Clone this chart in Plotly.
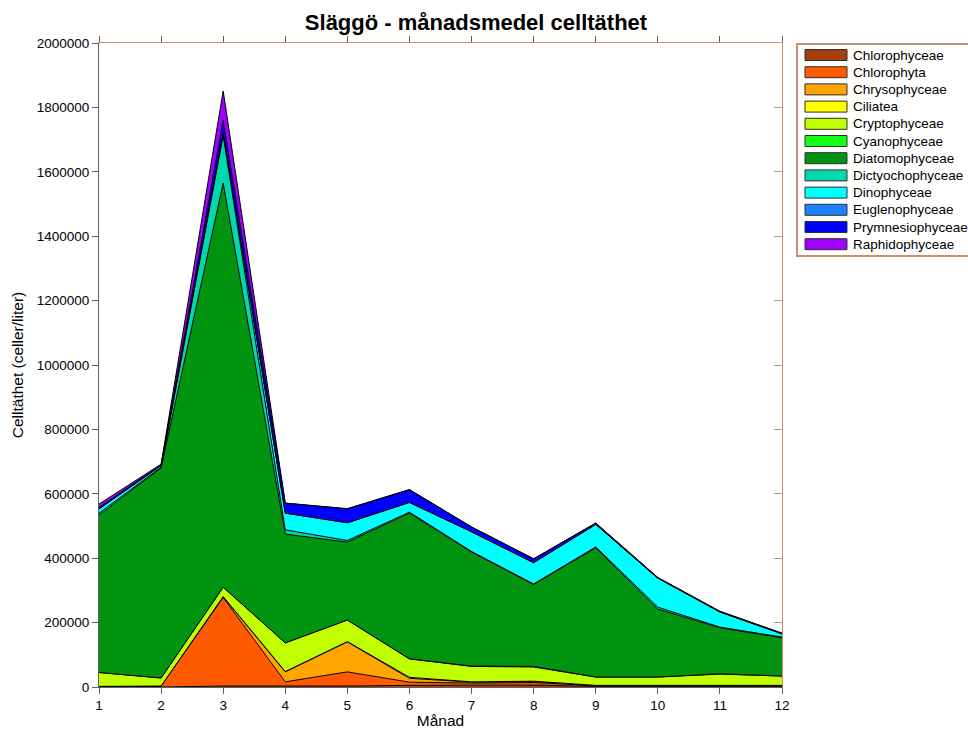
import plotly.graph_objects as go

months = [1, 2, 3, 4, 5, 6, 7, 8, 9, 10, 11, 12]

chlorophyceae    = [0, 0, 3000, 2000, 3000, 5000, 6000, 6000, 2000, 2000, 3000, 2000]
chlorophyta      = [2000, 3000, 275000, 14000, 44000, 10000, 6000, 8000, 2000, 2000, 2000, 2000]
chrysophyceae    = [0, 0, 2000, 31000, 93000, 12000, 3000, 3000, 1000, 1000, 1000, 1000]
ciliatea         = [0, 0, 1000, 1000, 1000, 3000, 1000, 1000, 0, 0, 0, 0]
cryptophyceae    = [43000, 25000, 29000, 89000, 67000, 57000, 48000, 44000, 26000, 26000, 34000, 29000]
cyanophyceae     = [0, 0, 0, 0, 0, 1000, 1000, 2000, 0, 0, 1000, 0]
diatomophyceae   = [489000, 652000, 1255000, 338000, 242000, 452000, 354000, 254000, 401000, 211000, 143000, 119000]
dictyochophyceae = [6000, 3000, 147000, 13000, 5000, 3000, 2000, 2000, 3000, 6000, 2000, 2000]
dinophyceae      = [13000, 5000, 8000, 52000, 55000, 30000, 61000, 66000, 70000, 90000, 47000, 10000]
euglenophyceae   = [0, 0, 0, 0, 0, 0, 0, 0, 0, 0, 0, 0]
prymnesiophyceae = [5000, 1000, 40000, 31000, 43000, 40000, 15000, 12000, 4000, 2000, 2000, 2000]
raphidophyceae   = [10000, 3000, 91000, 0, 1000, 0, 0, 0, 0, 0, 0, 0]

yticks = list(range(0, 2000001, 200000))

series = [
    ("Chlorophyceae", chlorophyceae, "#A3400C"),
    ("Chlorophyta", chlorophyta, "#FF5A00"),
    ("Chrysophyceae", chrysophyceae, "#FFA500"),
    ("Ciliatea", ciliatea, "#FFFF00"),
    ("Cryptophyceae", cryptophyceae, "#BFFF00"),
    ("Cyanophyceae", cyanophyceae, "#14FF14"),
    ("Diatomophyceae", diatomophyceae, "#009411"),
    ("Dictyochophyceae", dictyochophyceae, "#00D9AE"),
    ("Dinophyceae", dinophyceae, "#00FFFF"),
    ("Euglenophyceae", euglenophyceae, "#1E82FF"),
    ("Prymnesiophyceae", prymnesiophyceae, "#0000FF"),
    ("Raphidophyceae", raphidophyceae, "#A000FF"),
]

W, H = 968, 733
L, R, T, B = 99, 186, 43, 46
PW, PH = W - L - R, H - T - B


def px(X):
    return (X - L) / PW


def py(Y):
    return (H - B - Y) / PH


fig = go.Figure()
for name, vals, col in series:
    fig.add_trace(go.Scatter(
        x=months, y=vals, name=name, mode="lines",
        stackgroup="one", fillcolor=col,
        line=dict(color="black", width=1),
        hoverinfo="x+y+name", showlegend=False,
    ))

# invisible helper trace for the secondary (top/right) axes
fig.add_trace(go.Scatter(x=[1, 12], y=[0, 0], xaxis="x2", yaxis="y2",
                         mode="lines", line=dict(width=0), showlegend=False,
                         hoverinfo="skip"))

brown = "#C8906C"
grey = "#606060"
font = "Liberation Sans, Arial, sans-serif"

shapes = []
annotations = []
# legend box
shapes.append(dict(type="rect", xref="paper", yref="paper",
                   x0=px(797), x1=px(972), y0=py(256), y1=py(44),
                   line=dict(color=brown, width=2), fillcolor="white", layer="above"))
for i, (name, vals, col) in enumerate(series):
    c = 55 + 17.2 * i
    shapes.append(dict(type="rect", xref="paper", yref="paper",
                       x0=px(805), x1=px(847), y0=py(c + 5.5), y1=py(c - 5.5),
                       fillcolor=col, line=dict(color="#303030", width=1), layer="above"))
    annotations.append(dict(text=name, xref="paper", yref="paper",
                            x=px(851), y=py(c), xanchor="left", yanchor="middle",
                            showarrow=False, font=dict(size=13.5, family=font, color="black")))

fig.update_layout(
    width=W, height=H,
    margin=dict(l=L, r=R, t=T, b=B, autoexpand=False),
    paper_bgcolor="white", plot_bgcolor="white",
    font=dict(family=font, size=13.5, color="black"),
    title=dict(text="<b>Släggö - månadsmedel celltäthet</b>", x=px(476), xanchor="center",
               xref="paper", y=1 - 22 / H, yanchor="middle", yref="container",
               font=dict(size=22, family=font, color="black")),
    xaxis=dict(range=[1, 12], tickvals=months, ticktext=[str(m) for m in months],
               showgrid=False, zeroline=False, showline=True, linecolor=grey, linewidth=1,
               ticks="outside", ticklen=6, tickcolor=grey, automargin=False,
               title=dict(text="Månad", font=dict(size=15.5), standoff=2),
               tickfont=dict(size=13.5)),
    yaxis=dict(range=[0, 2000000], tickvals=yticks,
               ticktext=[str(v) for v in yticks],
               showgrid=False, zeroline=False, showline=True, linecolor=grey, linewidth=1,
               ticks="outside", ticklen=6, tickcolor=grey, automargin=False,
               title=dict(text="Celltäthet (celler/liter)", font=dict(size=15.5), standoff=9),
               tickfont=dict(size=13.5)),
    xaxis2=dict(overlaying="x", side="top", range=[1, 12], tickvals=months,
                showticklabels=False, showgrid=False, zeroline=False,
                showline=True, linecolor=brown, linewidth=1, automargin=False,
                ticks="outside", ticklen=6, tickcolor=grey),
    yaxis2=dict(overlaying="y", side="right", range=[0, 2000000],
                tickvals=yticks, automargin=False,
                showticklabels=False, showgrid=False, zeroline=False,
                showline=True, linecolor=brown, linewidth=1,
                ticks="inside", ticklen=8, tickcolor=brown),
    showlegend=False,
    shapes=shapes,
    annotations=annotations,
)

fig.write_html("out.html")
